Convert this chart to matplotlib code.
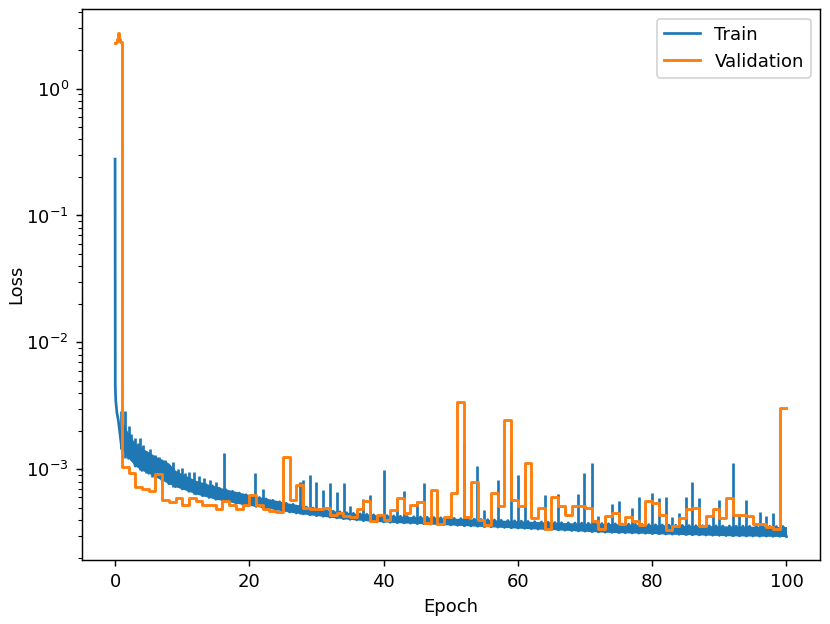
import matplotlib
matplotlib.use('Agg')
import matplotlib.pyplot as plt
import numpy as np

# train loss: steep start inside the first epoch
train_start_x = [0.0, 0.01, 0.03, 0.1, 0.27]
train_start_y = [0.278, 0.02, 4.5e-3, 3.5e-3, 2.8e-3]

# train loss band (upper / lower edge) for epochs 1..100, in units of 1e-3
train_hi = [
    2.40, 1.92, 1.60, 1.47, 1.37, 1.27, 1.20, 1.12, 0.98, 0.92,
    0.87, 0.82, 0.79, 0.76, 0.74, 0.71, 0.69, 0.67, 0.65, 0.63,
    0.615, 0.60, 0.585, 0.57, 0.555, 0.54, 0.53, 0.515, 0.505, 0.495,
    0.485, 0.475, 0.468, 0.462, 0.455, 0.450, 0.446, 0.442, 0.438, 0.435,
    0.432, 0.429, 0.427, 0.425, 0.423, 0.421, 0.419, 0.417, 0.415, 0.413,
    0.411, 0.409, 0.407, 0.405, 0.403, 0.401, 0.399, 0.397, 0.395, 0.393,
    0.391, 0.389, 0.387, 0.385, 0.383, 0.381, 0.380, 0.379, 0.378, 0.377,
    0.376, 0.375, 0.374, 0.373, 0.372, 0.371, 0.370, 0.369, 0.368, 0.367,
    0.366, 0.365, 0.364, 0.363, 0.362, 0.361, 0.360, 0.360, 0.359, 0.359,
    0.358, 0.358, 0.357, 0.357, 0.356, 0.356, 0.355, 0.355, 0.354, 0.354]
train_lo = [
    1.45, 1.22, 1.06, 0.98, 0.93, 0.87, 0.82, 0.77, 0.73, 0.70,
    0.67, 0.64, 0.62, 0.60, 0.58, 0.57, 0.555, 0.54, 0.53, 0.52,
    0.51, 0.50, 0.49, 0.48, 0.47, 0.46, 0.452, 0.445, 0.438, 0.432,
    0.426, 0.420, 0.414, 0.408, 0.403, 0.399, 0.395, 0.391, 0.388, 0.385,
    0.382, 0.380, 0.378, 0.376, 0.374, 0.372, 0.370, 0.368, 0.366, 0.364,
    0.362, 0.360, 0.358, 0.356, 0.354, 0.352, 0.350, 0.348, 0.346, 0.344,
    0.342, 0.340, 0.338, 0.337, 0.335, 0.333, 0.331, 0.329, 0.327, 0.325,
    0.323, 0.321, 0.319, 0.318, 0.317, 0.316, 0.315, 0.314, 0.313, 0.312,
    0.310, 0.309, 0.308, 0.307, 0.306, 0.305, 0.304, 0.303, 0.302, 0.301,
    0.300, 0.299, 0.299, 0.298, 0.298, 0.297, 0.297, 0.296, 0.296, 0.295]

# single-step spikes of the train loss (epoch, loss)
spike_epoch = [0.92, 1.5, 2.0, 2.4, 2.9, 3.4, 3.7, 4.05, 4.2, 4.6, 5.2, 5.5, 6.0,
               6.5, 7.0, 7.4, 8.0, 8.7, 9.4, 9.9, 10.4, 11.0, 11.7, 12.5, 13.3,
               14.2, 15.0, 16.2, 20.9, 22.0, 27.6, 28.0, 29.0, 30.0, 31.0, 32.0,
               33.0, 34.05, 35.0, 37.0, 38.0, 40.0, 42.0, 43.0, 45.0, 46.0, 47.9,
               51.9, 53.9, 55.0, 57.0, 59.0, 60.0, 61.0, 64.0, 66.0, 69.0, 69.9,
               71.0, 72.0, 74.0, 75.0, 77.0, 78.1, 80.0, 81.0, 82.0, 83.0, 84.0,
               85.0, 86.0, 87.0, 89.0, 90.0, 92.05, 93.0, 94.0, 96.0, 97.0, 98.0]
spike_loss = [2.9e-3, 2.9e-3, 2.2e-3, 1.9e-3, 1.75e-3, 1.6e-3, 1.75e-3, 1.51e-3,
              1.55e-3, 1.4e-3, 1.45e-3, 1.3e-3, 1.3e-3, 1.25e-3, 1.15e-3, 1.19e-3,
              1.08e-3, 1.15e-3, 1.0e-3, 1.02e-3, 9.4e-4, 9.6e-4, 9.6e-4, 8.8e-4,
              8.6e-4, 8.2e-4, 7.9e-4, 1.34e-3, 9.4e-4, 7.0e-4, 8.0e-4, 8.3e-4,
              9.0e-4, 8.0e-4, 6.9e-4, 7.8e-4, 6.6e-4, 7.8e-4, 5.1e-4, 5.8e-4, 6.3e-4,
              9.9e-4, 5.6e-4, 6.8e-4, 5.6e-4, 7.8e-4, 6.6e-4, 1.6e-3, 1.06e-3, 4.8e-4,
              8.3e-4, 1.34e-3, 9.0e-4, 8.5e-4, 6.3e-4, 6.4e-4, 6.4e-4, 9.4e-4, 1.12e-3,
              4.3e-4, 5.3e-4, 5.6e-4, 5.0e-4, 6.1e-4, 6.5e-4, 5.9e-4, 6.1e-4, 4.2e-4,
              4.5e-4, 6.1e-4, 7.9e-4, 5.9e-4, 4.4e-4, 5.7e-4, 1.13e-3, 4.3e-4, 5.7e-4,
              4.6e-4, 4.3e-4, 4.5e-4]

# validation loss, one value per epoch (epoch 0..99)
val_first_x = [0.0, 0.15, 0.3, 0.45, 0.6, 0.75]
val_first_y = [2.28, 2.32, 2.45, 2.72, 2.45, 2.32]
val_loss = [
    2.30, 1.04e-3, 9.4e-4, 7.2e-4, 7.0e-4, 6.7e-4, 9.2e-4, 5.7e-4, 5.5e-4, 5.9e-4,
    5.25e-4, 5.9e-4, 5.6e-4, 5.25e-4, 5.2e-4, 4.9e-4, 5.6e-4, 5.2e-4, 4.9e-4, 5.25e-4,
    6.3e-4, 5.2e-4, 4.9e-4, 4.7e-4, 4.6e-4, 1.24e-3, 5.7e-4, 7.5e-4, 5.0e-4, 4.9e-4,
    4.9e-4, 5.0e-4, 4.4e-4, 4.5e-4, 4.3e-4, 4.2e-4, 4.9e-4, 5.6e-4, 3.9e-4, 4.4e-4,
    4.0e-4, 4.8e-4, 5.9e-4, 4.5e-4, 5.2e-4, 5.5e-4, 3.8e-4, 6.9e-4, 3.7e-4, 4.2e-4,
    6.5e-4, 3.4e-3, 4.2e-4, 8.0e-4, 4.0e-4, 3.65e-4, 6.5e-4, 5.1e-4, 2.45e-3, 5.7e-4,
    5.1e-4, 1.12e-3, 4.1e-4, 5.0e-4, 3.4e-4, 6.1e-4, 5.1e-4, 4.4e-4, 5.1e-4, 5.1e-4,
    5.0e-4, 3.9e-4, 3.4e-4, 4.3e-4, 4.5e-4, 3.7e-4, 4.2e-4, 3.9e-4, 3.65e-4, 5.6e-4,
    5.4e-4, 4.4e-4, 3.3e-4, 3.6e-4, 4.1e-4, 4.9e-4, 5.0e-4, 3.6e-4, 4.3e-4, 4.9e-4,
    4.1e-4, 5.9e-4, 4.4e-4, 4.4e-4, 4.3e-4, 3.7e-4, 3.7e-4, 3.5e-4, 3.4e-4, 3.03e-3]

epochs = np.arange(1, 101)
hi = np.array(train_hi) * 1e-3
lo = np.array(train_lo) * 1e-3

# train line: start, then zigzag between band edges (hi at e-0.5, lo at e)
tx = list(train_start_x)
ty = list(train_start_y)
for e, h, l in zip(epochs, hi, lo):
    tx += [e - 0.5, e]
    ty += [h, l]

# validation as steps over epochs
vx = val_first_x + list(range(1, 100)) + [100]
vy = val_first_y + val_loss[1:] + [val_loss[-1]]

fig = plt.figure(figsize=(830/130., 624/130.), dpi=130)
ax = fig.add_axes([0.0982, 0.1026, 0.8898, 0.8822])

ax.fill_between(epochs, lo, hi, color='C0', lw=0)
l1, = ax.plot(tx, ty, color='C0', label='Train')
base = [lo[min(max(int(round(e)), 1), 100) - 1] for e in spike_epoch]
ax.vlines(spike_epoch, base, spike_loss, color='C0', lw=1.5)
ax.plot(vx, vy, color='C1', lw=1.6, drawstyle='steps-post', label='Validation')

ax.set_yscale('log')
ax.set_ylim(1.93e-4, 4.2)
ax.set_xlim(-5, 105)
ax.set_xlabel('Epoch')
ax.set_ylabel('Loss', labelpad=0.5)
ax.legend(loc='upper right')

fig.savefig('out.png', dpi=130)
